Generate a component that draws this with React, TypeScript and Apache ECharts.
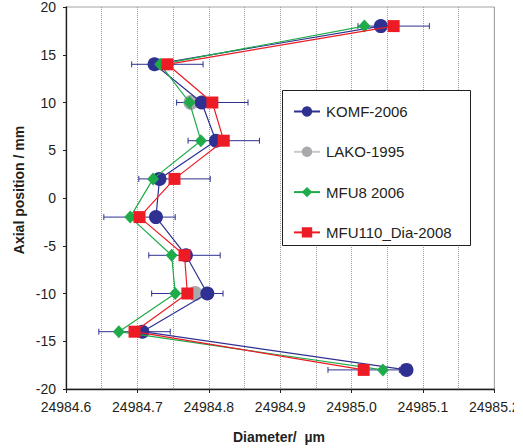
import React, { useEffect, useRef } from "react";
import * as echarts from "echarts";

const positions = [18, 14, 10, 6, 2, -2, -6, -10, -14, -18];
const komf2006 = [24985.041, 24984.724, 24984.79, 24984.81, 24984.731, 24984.726, 24984.768, 24984.798, 24984.707, 24985.077];
const mfu8 = [24985.018, 24984.732, 24984.773, 24984.789, 24984.722, 24984.69, 24984.748, 24984.753, 24984.674, 24985.044];
const mfu110 = [24985.059, 24984.742, 24984.805, 24984.821, 24984.752, 24984.703, 24984.766, 24984.77, 24984.696, 24985.017];
const mfu110Err = [0.05, 0.05, 0.05, 0.05, 0.05, 0.05, 0.05, 0.05, 0.05, 0.05];
const lakoPositions = [10, -10];
const lako1995 = [24984.775, 24984.781];

const seriesNames = ["KOMF-2006", "LAKO-1995", "MFU8 2006", "MFU110_Dia-2008"];

const FONT = '"Liberation Sans", Arial, sans-serif';

export default function App() {
  const ref = useRef<HTMLDivElement>(null);
  useEffect(() => {
    if (!ref.current) return;
    const chart = echarts.init(ref.current, null, { renderer: "svg" });
    const pair = (xs: number[], ys: number[]) => xs.map((x, i) => [x, ys[i]]);
    const lakoData: any[] = [];
    lakoPositions.forEach((y, i) => {
      if (i > 0) lakoData.push(["-", "-"]);
      lakoData.push([lako1995[i], y]);
    });
    const navy = "#2e3192";
    const gray = "#a7a9ac";
    const green = "#1fab4a";
    const red = "#ed1c24";
    chart.setOption({
      animation: false,
      backgroundColor: "#ffffff",
      textStyle: { fontFamily: FONT },
      grid: {
        left: 66,
        top: 7,
        right: 28.7,
        bottom: 59,
        show: true,
        borderColor: "#a3a3a3",
        borderWidth: 1,
      },
      xAxis: {
        type: "value",
        min: 24984.6,
        max: 24985.2,
        interval: 0.1,
        axisLine: { show: true, onZero: false, lineStyle: { color: "#231f20", width: 1.3 } },
        axisTick: { show: true, inside: false, length: 4, lineStyle: { color: "#231f20" } },
        axisLabel: {
          formatter: (v: number) => v.toFixed(1),
          fontSize: 14,
          color: "#231f20",
          margin: 11,
          fontFamily: FONT,
        },
        splitLine: { show: true, lineStyle: { color: "#9a9a9a", type: "dotted", width: 1 } },
        minorTick: { show: false, splitNumber: 2 },
        minorSplitLine: { show: true, lineStyle: { color: "#9a9a9a", type: "dotted", width: 1 } },
      },
      yAxis: {
        type: "value",
        min: -20,
        max: 20,
        interval: 5,
        axisLine: { show: true, onZero: false, lineStyle: { color: "#231f20", width: 1.3 } },
        axisTick: { show: true, inside: false, length: 3, lineStyle: { color: "#231f20" } },
        axisLabel: { fontSize: 14, color: "#231f20", margin: 10, fontFamily: FONT },
        splitLine: { show: false },
      },
      legend: {
        data: seriesNames,
        orient: "vertical",
        left: 293,
        top: 104,
        padding: 0,
        itemWidth: 26,
        itemHeight: 13,
        itemGap: 25.3,
        z: 5,
        textStyle: { fontSize: 15, color: "#231f20", fontFamily: FONT, padding: [0, 0, 0, 1] },
      },
      graphic: [
        {
          type: "rect",
          z: 3,
          shape: { x: 282.5, y: 90.5, width: 188, height: 155 },
          style: { fill: "#ffffff", stroke: "#231f20", lineWidth: 1 },
        },
        {
          type: "text",
          x: 279,
          y: 437,
          style: {
            text: "Diameter/  µm",
            fontSize: 14,
            fontWeight: "bold",
            fontFamily: FONT,
            fill: "#231f20",
            textAlign: "center",
            textVerticalAlign: "middle",
          },
        },
        {
          type: "text",
          x: 19,
          y: 190,
          rotation: Math.PI / 2,
          style: {
            text: "Axial position / mm",
            fontSize: 14,
            fontWeight: "bold",
            fontFamily: FONT,
            fill: "#231f20",
            textAlign: "center",
            textVerticalAlign: "middle",
          },
        },
      ],
      series: [
        {
          name: "MFU110 error",
          type: "custom",
          z: 1,
          encode: { x: 0, y: 1 },
          data: mfu110.map((x, i) => [x, positions[i], mfu110Err[i]]),
          renderItem: (params: any, api: any) => {
            const x = api.value(0);
            const y = api.value(1);
            const e = api.value(2);
            const p1 = api.coord([x - e, y]);
            const p2 = api.coord([x + e, y]);
            const style = { stroke: navy, lineWidth: 1 };
            return {
              type: "group",
              children: [
                { type: "line", shape: { x1: p1[0], y1: p1[1], x2: p2[0], y2: p2[1] }, style },
                { type: "line", shape: { x1: p1[0], y1: p1[1] - 3, x2: p1[0], y2: p1[1] + 3 }, style },
                { type: "line", shape: { x1: p2[0], y1: p2[1] - 3, x2: p2[0], y2: p2[1] + 3 }, style },
              ],
            };
          },
        },
        {
          name: "LAKO-1995",
          type: "line",
          z: 2,
          data: lakoData,
          connectNulls: false,
          symbol: "circle",
          symbolSize: 15,
          showAllSymbol: true,
          itemStyle: { color: gray },
          lineStyle: { color: "#c8c9cb", width: 1.2 },
        },
        {
          name: "KOMF-2006",
          type: "line",
          z: 3,
          data: pair(komf2006, positions),
          symbol: "circle",
          symbolSize: 14,
          showAllSymbol: true,
          itemStyle: { color: navy },
          lineStyle: { color: navy, width: 1.2 },
        },
        {
          name: "MFU8 2006",
          type: "line",
          z: 4,
          data: pair(mfu8, positions),
          symbol: "diamond",
          symbolSize: [12, 13],
          showAllSymbol: true,
          itemStyle: { color: green },
          lineStyle: { color: green, width: 1.2 },
        },
        {
          name: "MFU110_Dia-2008",
          type: "line",
          z: 5,
          data: pair(mfu110, positions),
          symbol: "rect",
          symbolSize: 12,
          showAllSymbol: true,
          itemStyle: { color: red },
          lineStyle: { color: red, width: 1.2 },
        },
      ],
    });
    return () => chart.dispose();
  }, []);
  return (
    <div style={{ position: "fixed", left: 0, top: 0, width: 514, height: 448, overflow: "hidden", background: "#fff" }}>
      <div ref={ref} style={{ width: 523, height: 448 }} />
    </div>
  );
}
